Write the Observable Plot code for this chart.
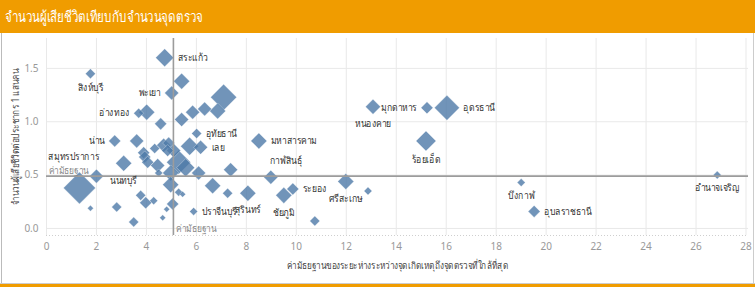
<!DOCTYPE html>
<html><head><meta charset="utf-8">
<script src="https://cdn.jsdelivr.net/npm/d3@7"></script>
<script src="https://cdn.jsdelivr.net/npm/@observablehq/plot@0.6"></script>
<style>
body{margin:0;background:#fff;font-family:"Noto Sans",sans-serif;}
#wrap{width:755px;height:287px;position:relative;overflow:hidden;background:#fff;}
#title{position:absolute;top:0;left:0;width:755px;height:33px;background:#f09c00;color:#fff;font-size:15px;line-height:33px;padding-left:5px;box-sizing:border-box;white-space:nowrap;}
#title span{display:inline-block;transform:scaleX(0.77);transform-origin:left center;}
#bl{position:absolute;top:33px;left:1px;width:1px;height:250px;background:#bbb;}
#br{position:absolute;top:33px;left:753px;width:1px;height:250px;background:#ccc;}
#bottom{position:absolute;top:283px;left:0;width:755px;height:4px;background:#f09c00;border-top:1px solid #ccc;box-sizing:border-box;}
#chart{position:absolute;top:33px;left:0;}
</style></head>
<body>
<div id="wrap">
  <div id="title"><span>จำนวนผู้เสียชีวิตเทียบกับจำนวนจุดตรวจ</span></div>
  <div id="bl"></div><div id="br"></div>
  <div id="chart"></div>
  <div id="bottom"></div>
</div>
<script>
// Province names (empty = unlabelled)
const provinces = [
  "สระแก้ว","สิงห์บุรี","พะเยา","อ่างทอง","น่าน","สมุทรปราการ","นนทบุรี","อุทัยธานี","เลย","มหาสารคาม",
  "กาฬสินธุ์","ระยอง","ชัยภูมิ","ปราจีนบุรี","สุรินทร์","ศรีสะเกษ","หนองคาย","มุกดาหาร","อุดรธานี","ร้อยเอ็ด",
  "บึงกาฬ","อุบลราชธานี","อำนาจเจริญ",
  "","","","","","","","","","",
  "","","","","","","","","","",
  "","","","","","","","","","",
  "","","","","","","","","","",
  "",""
];
// Median distance from accident point to nearest checkpoint
const medianDist = [
  4.73,1.76,5.01,3.69,2.73,1.32,3.09,6.01,6.17,8.50,
  8.98,9.86,9.50,5.89,8.06,11.98,13.07,15.23,16.03,15.19,
  19.00,19.52,26.85,
  5.41,4.01,4.57,7.09,6.85,6.33,5.85,5.41,3.61,3.89,
  4.33,4.69,4.89,2.00,3.93,4.05,4.45,4.49,4.97,5.29,
  5.57,5.09,4.85,5.73,7.37,6.09,6.65,7.25,3.77,3.97,
  4.29,1.76,2.81,3.49,4.81,4.65,5.05,5.29,5.45,12.87,
  10.74,4.97
];
// Deaths per 100,000 population
const deathRate = [
  1.60,1.45,1.27,1.08,0.82,0.38,0.61,0.89,0.76,0.82,
  0.48,0.37,0.31,0.16,0.33,0.44,1.14,1.13,1.13,0.82,
  0.43,0.16,0.50,
  1.38,1.09,0.98,1.23,1.10,1.12,1.09,1.02,0.82,0.71,
  0.75,0.78,0.80,0.49,0.67,0.62,0.59,0.52,0.52,0.62,
  0.57,0.73,0.73,0.77,0.55,0.52,0.40,0.33,0.31,0.24,
  0.26,0.19,0.20,0.06,0.18,0.10,0.23,0.34,0.32,0.35,
  0.07,0.41
];
// Marker size measure (estimated)
const sizeValue = [
  162,50,98,50,72,512,128,50,98,128,
  98,72,128,32,128,128,112,72,312,200,
  32,72,32,
  128,128,72,338,128,98,98,98,98,72,
  50,98,72,98,72,72,98,32,128,288,
  162,98,72,162,98,98,128,50,50,72,
  32,18,50,50,18,18,72,32,18,32,
  50,128
];
const xTicks = [0,2,4,6,8,10,12,14,16,18,20,22,24,26,28];
const yTicks = [0,0.5,1.0,1.5];
const medianX = 5.08;
const medianY = 0.49;
const xTitle = "ค่ามัธยฐานของระยะห่างระหว่างจุดเกิดเหตุถึงจุดตรวจที่ใกล้ที่สุด";
const yTitle = "จำนวนผู้เสียชีวิตต่อประชากร 1 แสนคน";
const refLabel = "ค่ามัธยฐาน";

const labelsRight = ["สระแก้ว","อุทัยธานี","เลย","มหาสารคาม","ระยอง","ปราจีนบุรี","อุดรธานี","อุบลราชธานี"];
const labelsLeft = ["พะเยา","อ่างทอง","น่าน","มุกดาหาร"];
const labelsBelow = ["สิงห์บุรี","นนทบุรี","สุรินทร์","ชัยภูมิ","ศรีสะเกษ","หนองคาย","ร้อยเอ็ด","บึงกาฬ","อำนาจเจริญ"];

const data = provinces.map((p, i) => ({name: p, x: medianDist[i], y: deathRate[i], s: sizeValue[i]}));
const byName = new Map(data.filter(d => d.name).map(d => [d.name, d]));

const R_MAX = 12.77, S_MAX = 512;
const halfDiag = s => R_MAX * Math.sqrt(s / S_MAX) * Math.sqrt(Math.PI / 2);

const diamond = {
  draw(ctx, size) {
    const h = Math.sqrt(size / 2);
    ctx.moveTo(0, -h); ctx.lineTo(h, 0); ctx.lineTo(0, h); ctx.lineTo(-h, 0); ctx.closePath();
  }
};

const font = "'Noto Sans', sans-serif";
const lab = {x: "x", y: "y", text: "name", fill: "#333", fontSize: 10};
const labelMarks = [];
for (const n of labelsRight) {
  const d = byName.get(n);
  labelMarks.push(Plot.text([d], {...lab, textAnchor: "start", dx: halfDiag(d.s) + 4}));
}
for (const n of labelsLeft) {
  const d = byName.get(n);
  labelMarks.push(Plot.text([d], {...lab, textAnchor: "end", dx: -(halfDiag(d.s) + 4)}));
}
for (const n of labelsBelow) {
  const d = byName.get(n);
  labelMarks.push(Plot.text([d], {...lab, textAnchor: "middle", dy: halfDiag(d.s) + 9}));
}
{
  const d = byName.get("กาฬสินธุ์");
  labelMarks.push(Plot.text([d], {...lab, textAnchor: "start", dx: -1, dy: -(halfDiag(d.s) + 9)}));
  const e = byName.get("สมุทรปราการ");
  labelMarks.push(Plot.text([e], {...lab, textAnchor: "start", dx: -31, dy: -31.5}));
}

const yDomain = [-0.066, 1.78];
const chart = Plot.plot({
  width: 755, height: 250,
  marginLeft: 46, marginRight: 7, marginTop: 5, marginBottom: 48,
  style: {fontFamily: font, fontSize: "10px", background: "transparent", overflow: "visible"},
  x: {domain: [0, 28.1], axis: null},
  y: {domain: yDomain, axis: null},
  r: {type: "sqrt", domain: [0, S_MAX], range: [0, R_MAX]},
  marks: [
    Plot.gridX(xTicks, {stroke: "#e9e9e9", strokeOpacity: 1}),
    Plot.gridY(yTicks, {stroke: "#e9e9e9", strokeOpacity: 1}),
    Plot.ruleY([yDomain[0]], {stroke: "#cfcfcf", strokeDasharray: "1,2"}),
    Plot.axisX(xTicks, {tickSize: 0, tickPadding: 7, color: "#999", label: null, fontSize: 10}),
    Plot.axisY(yTicks, {tickSize: 0, tickPadding: 8, color: "#999", label: null, tickFormat: d3.format(".1f"), fontSize: 10}),
    Plot.dot(data, {x: "x", y: "y", r: "s", symbol: diamond, fill: "#4e79a7", fillOpacity: 0.8, stroke: "#fff", strokeOpacity: 0.5, strokeWidth: 0.6, sort: {channel: "r", order: "descending"}}),
    Plot.ruleX([medianX], {stroke: "#9c9c9c", strokeWidth: 1.6}),
    Plot.ruleY([medianY], {stroke: "#9c9c9c", strokeWidth: 1.6}),
    Plot.text([refLabel], {frameAnchor: "left", y: medianY, textAnchor: "start", dx: 2, dy: -5, fill: "#888", fontSize: 10}),
    Plot.text([refLabel], {x: medianX, y: 0, textAnchor: "start", dx: 3, dy: 0, fill: "#888", fontSize: 10}),
    ...labelMarks,
    Plot.text([xTitle], {frameAnchor: "bottom", dy: 33, fill: "#444", fontSize: 10}),
    Plot.text([yTitle], {frameAnchor: "left", textAnchor: "middle", rotate: -90, dx: -31, dy: 0, fill: "#444", fontSize: 10})
  ]
});
document.getElementById("chart").appendChild(chart);

// Condense Thai texts horizontally (about their anchor) to match the narrower reference font
const thai = /[\u0E00-\u0E7F]/;
chart.querySelectorAll("text").forEach(t => {
  const s = t.textContent;
  if (!thai.test(s)) return;
  const ratio = (s === xTitle || s === yTitle) ? 0.82 : s === refLabel ? 0.84 : 0.86;
  const tr = t.getAttribute("transform");
  if (tr) {
    t.setAttribute("transform", `${tr} scale(${ratio},1)`);
  } else {
    const x = +(t.getAttribute("x") || 0);
    t.setAttribute("transform", `translate(${x * (1 - ratio)},0) scale(${ratio},1)`);
  }
});
</script>
</body></html>
